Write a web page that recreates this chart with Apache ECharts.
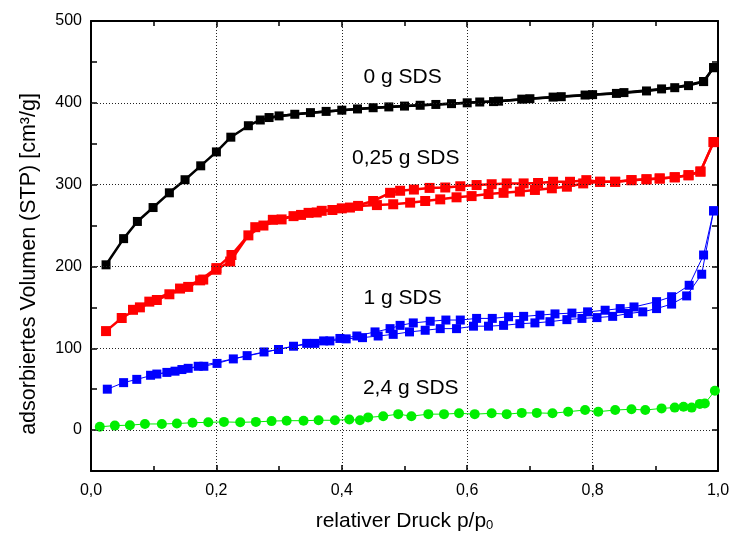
<!DOCTYPE html>
<html>
<head>
<meta charset="utf-8">
<script src="https://cdn.jsdelivr.net/npm/echarts@6/dist/echarts.min.js"></script>
<style>
html,body{margin:0;padding:0;background:#fff;}
#chart{width:730px;height:536px;}
</style>
</head>
<body>
<div id="chart"></div>
<script>
// ---- data ----
const seriesNames = ['0 g SDS', '0,25 g SDS', '1 g SDS', '2,4 g SDS'];

const ads0 = [[0.024,202],[0.052,234],[0.074,255],[0.099,272],[0.125,290],[0.150,306],[0.175,323],[0.200,340],[0.223,358],[0.251,372],[0.270,379],[0.300,384],[0.350,388],[0.400,391],[0.450,394],[0.500,396],[0.550,398],[0.600,400],[0.650,402],[0.700,405],[0.750,407.5],[0.800,410],[0.850,412.5],[0.910,417],[0.953,421],[0.977,426],[0.993,443]];
const des0 = [[0.993,443],[0.977,426],[0.931,418.5],[0.886,414.5],[0.838,411.5],[0.788,409.5],[0.737,407],[0.687,404.5],[0.642,401.5],[0.620,401],[0.575,399],[0.525,397],[0.475,395],[0.425,392.5],[0.375,389.5],[0.325,386],[0.284,382]];

const ads025 = [[0.024,121],[0.049,137],[0.078,150],[0.105,159],[0.125,166],[0.155,175],[0.179,184],[0.200,196],[0.222,206],[0.251,238],[0.275,250],[0.304,257.5],[0.323,261.5],[0.347,265.5],[0.368,268],[0.400,271],[0.426,274],[0.456,275],[0.482,276],[0.509,278],[0.533,280],[0.557,282],[0.583,284.5],[0.607,286],[0.634,288.5],[0.658,290],[0.684,291.5],[0.708,293.5],[0.735,295.5],[0.759,297.5],[0.785,301.5],[0.812,303.5],[0.836,303.5],[0.862,305.5],[0.886,306.5],[0.907,307.5],[0.931,309],[0.953,311.5],[0.972,316],[0.993,352]];
const des025 = [[0.993,352],[0.972,316],[0.953,311.5],[0.931,309],[0.907,307.5],[0.886,306.5],[0.862,305.5],[0.836,303.5],[0.812,303.5],[0.790,305.5],[0.764,303.5],[0.737,303.5],[0.713,302],[0.690,301.5],[0.663,301.5],[0.639,300.5],[0.615,299.5],[0.589,298],[0.565,296.5],[0.540,296],[0.515,294],[0.493,292.5],[0.477,290],[0.450,280],[0.413,272],[0.385,269],[0.360,266],[0.335,263],[0.290,257],[0.262,248],[0.224,214],[0.200,198],[0.174,183],[0.142,173],[0.093,157],[0.067,147]];

const ads1 = [[0.026,50],[0.052,58],[0.073,62],[0.105,68.5],[0.134,72],[0.155,75.5],[0.180,78],[0.201,81.5],[0.227,87],[0.249,91],[0.276,95.5],[0.299,98.5],[0.323,102.5],[0.357,106],[0.381,109],[0.407,111.5],[0.433,113],[0.458,115],[0.482,117],[0.508,120],[0.533,122],[0.557,124],[0.583,124],[0.610,127],[0.634,127],[0.658,128],[0.684,130],[0.708,131],[0.732,132.5],[0.759,135],[0.783,136.5],[0.807,137.5],[0.832,139],[0.857,142.5],[0.880,144.5],[0.902,148.5],[0.926,154],[0.950,164],[0.974,190.5],[0.993,268]];
const des1 = [[0.993,268],[0.977,214],[0.954,177],[0.926,163],[0.902,157],[0.866,150.5],[0.844,148.5],[0.820,146.5],[0.792,144.5],[0.767,143],[0.740,142],[0.716,140.5],[0.690,139],[0.666,138.5],[0.640,136.5],[0.615,136.5],[0.589,134.5],[0.566,134.5],[0.541,133],[0.514,131],[0.493,128],[0.477,124],[0.453,120],[0.424,115],[0.397,112],[0.371,109],[0.344,106],[0.171,78],[0.145,74],[0.121,70.5],[0.095,67]];

const iso24 = [[0.014,4],[0.038,5.5],[0.062,6],[0.086,7.5],[0.113,7.5],[0.137,8],[0.162,9],[0.187,9.5],[0.212,10],[0.238,9.5],[0.263,10],[0.288,11],[0.312,11.5],[0.339,11.5],[0.363,12],[0.389,12],[0.412,13],[0.429,12],[0.442,15.5],[0.466,17],[0.490,19.5],[0.511,17],[0.538,19.5],[0.563,19.5],[0.587,20.5],[0.612,19.5],[0.639,20.5],[0.663,19.5],[0.687,21],[0.711,21],[0.736,20.5],[0.761,22.5],[0.788,24.5],[0.809,22.5],[0.836,24.5],[0.862,25.5],[0.884,24.5],[0.910,26.5],[0.931,27.5],[0.945,28.5],[0.958,27.5],[0.971,32],[0.979,32.5],[0.995,48]];

const xTickValues = [0, 0.2, 0.4, 0.6, 0.8, 1.0];
const xTickLabels = ['0,0', '0,2', '0,4', '0,6', '0,8', '1,0'];
const yTickValues = [0, 100, 200, 300, 400, 500];
const yTickLabels = ['0', '100', '200', '300', '400', '500'];

// ---- layout / style ----
const FONT = '"Liberation Sans", Arial, Helvetica, sans-serif';
const labelAnchors = [[0.497, 431], [0.502, 332], [0.497, 161], [0.51, 51]];

function xFmt(v) {
  const i = xTickValues.findIndex(t => Math.abs(t - v) < 1e-6);
  return i >= 0 ? xTickLabels[i] : '';
}
function yFmt(v) {
  const i = yTickValues.findIndex(t => Math.abs(t - v) < 1e-6);
  return i >= 0 ? yTickLabels[i] : '';
}

const axisLineStyle = { color: '#000', width: 2 };
const tickStyle = { color: '#000', width: 1.5 };
const dotted = { color: '#222', width: 1, type: [1, 2] };

function xAxisDef(pos, main) {
  return {
    type: 'value', min: 0, max: 1, interval: 0.2, position: pos,
    axisLine: { show: true, onZero: false, lineStyle: axisLineStyle },
    axisTick: { show: true, inside: true, length: 6, lineStyle: tickStyle },
    minorTick: { show: true, splitNumber: 2, length: 5, lineStyle: tickStyle },
    splitLine: { show: main, lineStyle: dotted },
    minorSplitLine: { show: false },
    axisLabel: main ? { show: true, formatter: xFmt, fontSize: 16, color: '#000', margin: 12, fontFamily: FONT } : { show: false },
    name: main ? '{a|relativer Druck p/p}{s|0}' : '',
    nameLocation: 'middle', nameGap: 37,
    nameTextStyle: {
      fontFamily: FONT, color: '#000',
      rich: {
        a: { fontSize: 21, fontFamily: FONT, color: '#000', lineHeight: 24, verticalAlign: 'bottom' },
        s: { fontSize: 13, fontFamily: FONT, color: '#000', lineHeight: 13, verticalAlign: 'bottom' }
      }
    }
  };
}
function yAxisDef(pos, main) {
  return {
    type: 'value', min: -50, max: 500, interval: 50, position: pos,
    axisLine: { show: true, onZero: false, lineStyle: axisLineStyle },
    axisTick: { show: true, inside: true, length: 6, lineStyle: tickStyle },
    splitLine: { show: false },
    axisLabel: main ? { show: true, formatter: yFmt, fontSize: 16, color: '#000', margin: 9, fontFamily: FONT } : { show: false },
    name: main ? 'adsorbiertes Volumen (STP) [cm³/g]' : '',
    nameLocation: 'middle', nameGap: 51, nameRotate: 90,
    nameTextStyle: { fontSize: 21.5, fontFamily: FONT, color: '#000', padding: [0, 0, 0, -36] }
  };
}

function lineSeries(data, color, width, symbol, size) {
  return {
    type: 'line', data: data, xAxisIndex: 0, yAxisIndex: 0,
    symbol: symbol, symbolSize: size, showSymbol: true,
    lineStyle: { color: color, width: width },
    itemStyle: { color: color },
    z: 3, animation: false, silent: true
  };
}

const chart = echarts.init(document.getElementById('chart'), null, { renderer: 'canvas' });
chart.setOption({
  backgroundColor: '#fff',
  animation: false,
  grid: { left: 91, right: 12, top: 21, bottom: 65, containLabel: false, outerBoundsMode: 'none' },
  xAxis: [xAxisDef('bottom', true), xAxisDef('top', false)],
  yAxis: [yAxisDef('left', true), yAxisDef('right', false)],
  series: [
    {
      type: 'line', xAxisIndex: 0, yAxisIndex: 0, z: 1, silent: true,
      data: [],
      lineStyle: { width: 0 }, symbol: 'none',
      markLine: {
        silent: true, symbol: ['none', 'none'], label: { show: false },
        lineStyle: dotted, animation: false,
        data: yTickValues.filter(v => v < 500).map(v => ({ yAxis: v }))
      }
    },
    {
      type: 'scatter', xAxisIndex: 0, yAxisIndex: 0, z: 4, silent: true,
      data: labelAnchors.map((p, i) => ({ value: [p[0], p[1]], name: seriesNames[i] })),
      symbolSize: 1, itemStyle: { color: '#fff', opacity: 1 },
      label: { show: true, position: 'inside', formatter: p => p.name, fontSize: 21, fontFamily: FONT, color: '#000', opacity: 1, textBorderWidth: 0 }
    },
    lineSeries(ads0, '#000000', 2.5, 'rect', 9),
    lineSeries(des0, '#000000', 2.5, 'rect', 9),
    lineSeries(ads025, '#ff0000', 2.5, 'rect', 10),
    lineSeries(des025, '#ff0000', 2.5, 'rect', 10),
    lineSeries(ads1, '#0000ff', 1, 'rect', 9),
    lineSeries(des1, '#0000ff', 1, 'rect', 9),
    lineSeries(iso24, '#00ee00', 1, 'circle', 10)
  ]
});
</script>
</body>
</html>
